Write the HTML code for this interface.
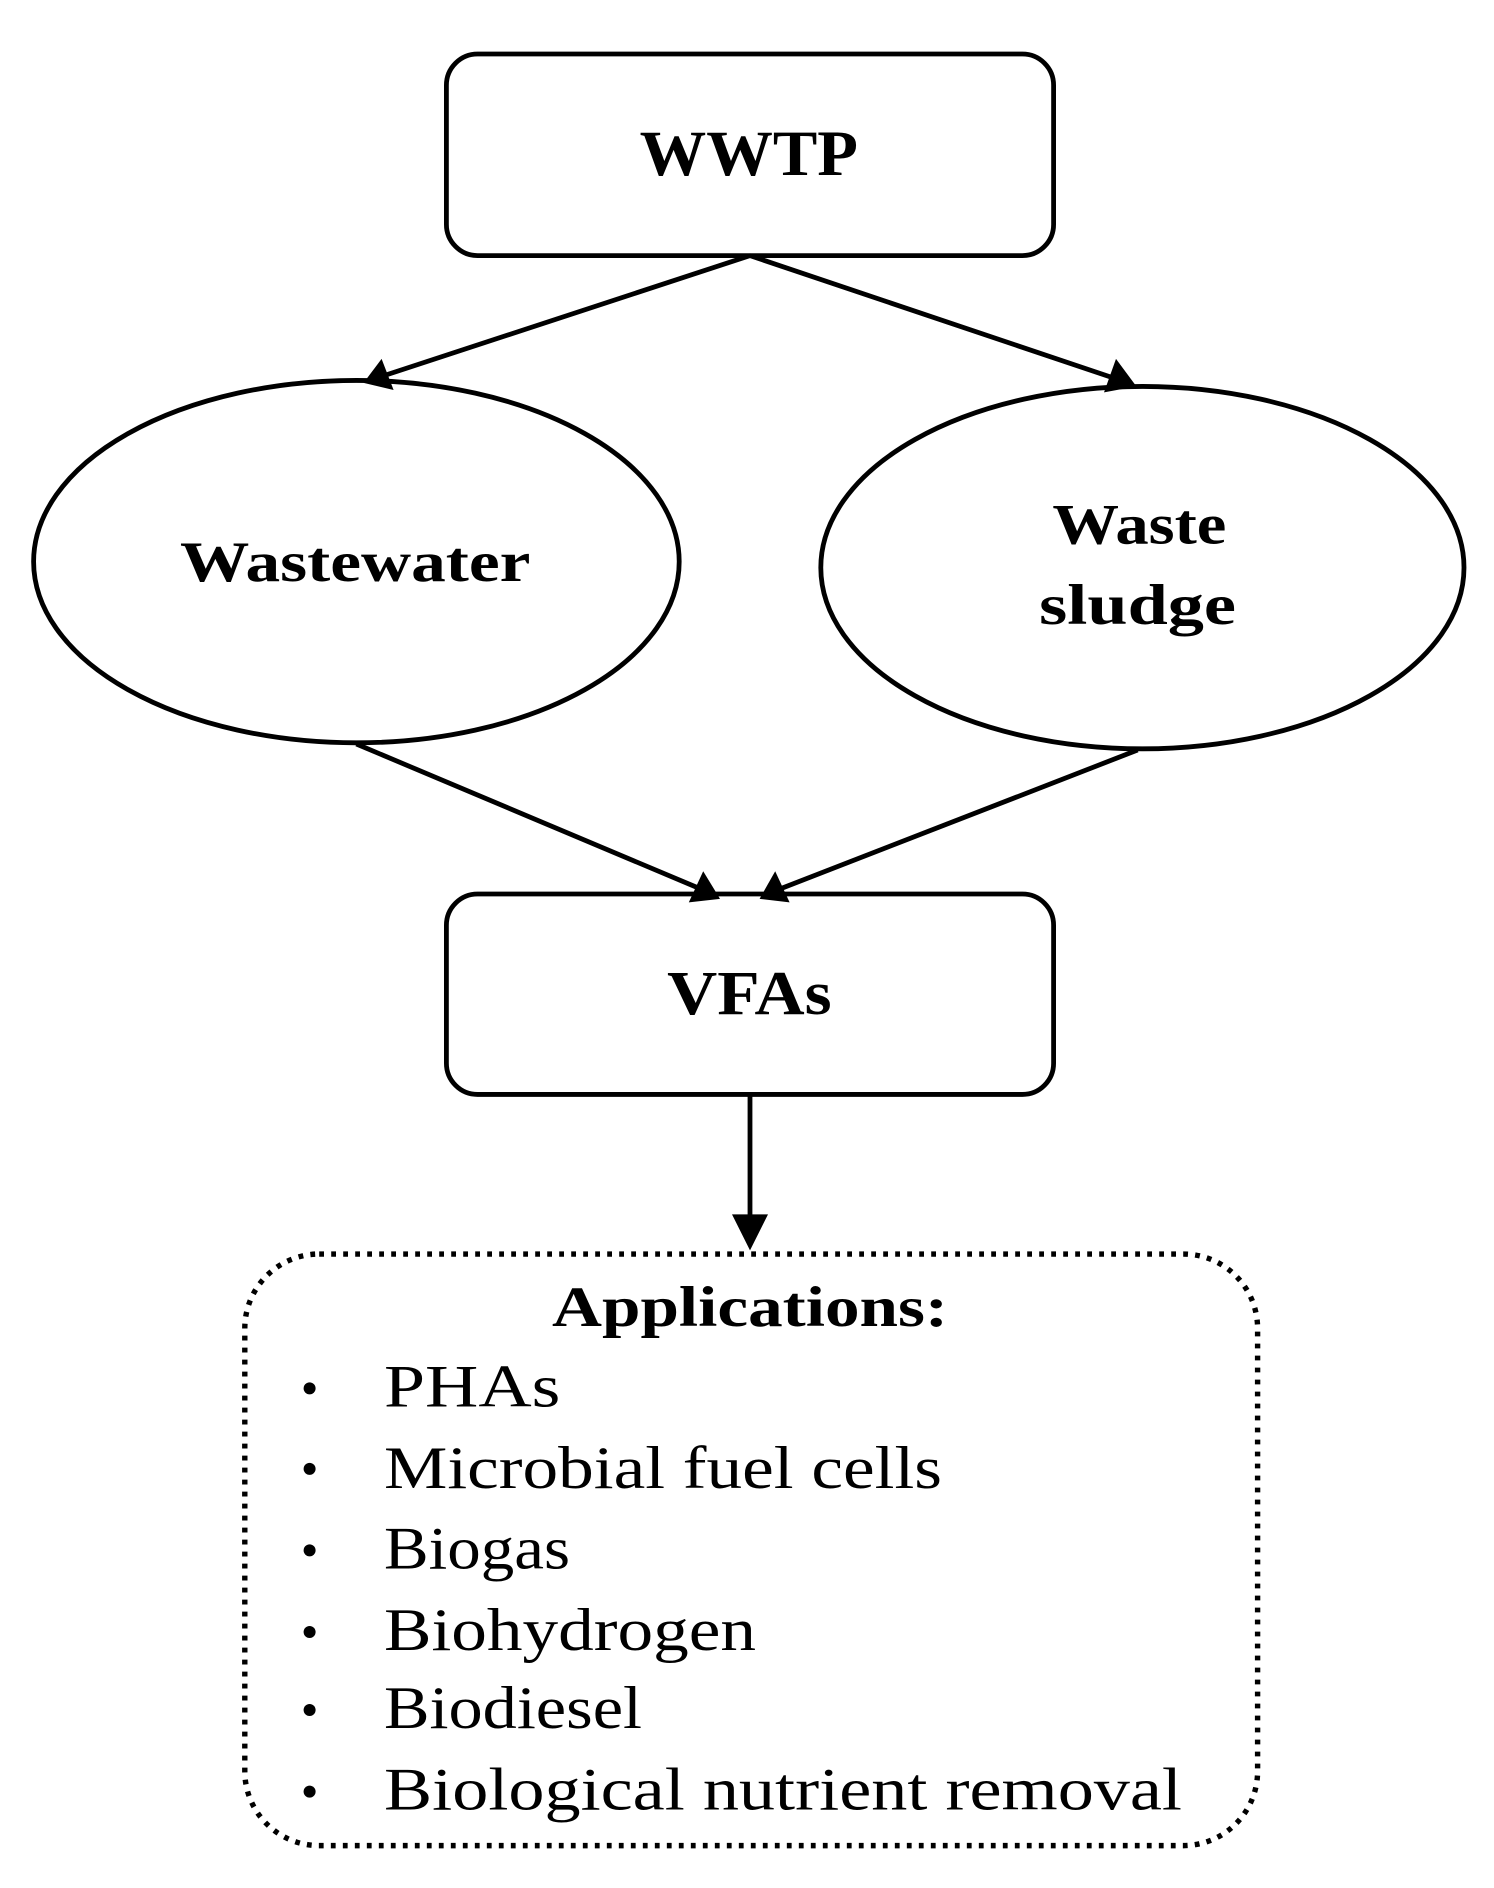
<!DOCTYPE html>
<html><head><meta charset="utf-8"><style>html,body{margin:0;padding:0;background:#fff}svg{display:block}</style></head>
<body>
<svg width="1494" height="1888" viewBox="0 0 1245 1573.3" xmlns="http://www.w3.org/2000/svg">
<g fill="none" stroke="#000" stroke-width="4">
<rect x="372" y="45" width="506" height="168" rx="26"/>
<ellipse cx="297" cy="468" rx="269" ry="151"/>
<ellipse cx="952" cy="473" rx="268" ry="151"/>
<rect x="372" y="745" width="506" height="167" rx="26"/>
<rect x="204" y="1045" width="844" height="493" rx="62" stroke-dasharray="4 6" stroke-width="4.5"/>
<line x1="625" y1="213" x2="320" y2="313"/>
<line x1="625" y1="213" x2="928" y2="315"/>
<line x1="297" y1="620" x2="582" y2="740"/>
<line x1="948" y1="625" x2="652" y2="740"/>
<line x1="625" y1="912" x2="625" y2="1015"/>
</g>
<g fill="#000">
<polygon points="303,319 318,299 328,325"/>
<polygon points="947,322 920,327 930,299"/>
<polygon points="600,749 574,752 586,726"/>
<polygon points="633,749 646,726 658,752"/>
<polygon points="625,1042 610,1012 640,1012"/>
</g>
<g font-family="'Liberation Serif', serif" font-weight="bold" lengthAdjust="spacingAndGlyphs">
<text x="533" y="146" font-size="54" textLength="182" lengthAdjust="spacingAndGlyphs">WWTP</text>
<text x="150" y="484" font-size="48" textLength="292" lengthAdjust="spacingAndGlyphs">Wastewater</text>
<text x="877" y="453" font-size="48" textLength="145" lengthAdjust="spacingAndGlyphs">Waste</text>
<text x="866" y="520" font-size="48" textLength="164" lengthAdjust="spacingAndGlyphs">sludge</text>
<text x="556" y="845" font-size="52" textLength="137" lengthAdjust="spacingAndGlyphs">VFAs</text>
<text x="460" y="1105" font-size="48" textLength="330" lengthAdjust="spacingAndGlyphs">Applications:</text>
</g>
<g font-family="'Liberation Serif', serif" font-size="50">
<g fill="#000"><circle cx="258" cy="1157" r="5"/><circle cx="258" cy="1224" r="5"/><circle cx="258" cy="1292" r="5"/><circle cx="258" cy="1360" r="5"/><circle cx="258" cy="1425" r="5"/><circle cx="258" cy="1493" r="5"/></g>
<text x="320" y="1172" textLength="147" lengthAdjust="spacingAndGlyphs">PHAs</text>
<text x="320" y="1240" textLength="465" lengthAdjust="spacingAndGlyphs">Microbial fuel cells</text>
<text x="320" y="1307" textLength="155" lengthAdjust="spacingAndGlyphs">Biogas</text>
<text x="320" y="1375" textLength="310" lengthAdjust="spacingAndGlyphs">Biohydrogen</text>
<text x="320" y="1440" textLength="215" lengthAdjust="spacingAndGlyphs">Biodiesel</text>
<text x="320" y="1508" textLength="665" lengthAdjust="spacingAndGlyphs">Biological nutrient removal</text>
</g>
</svg>
</body></html>
